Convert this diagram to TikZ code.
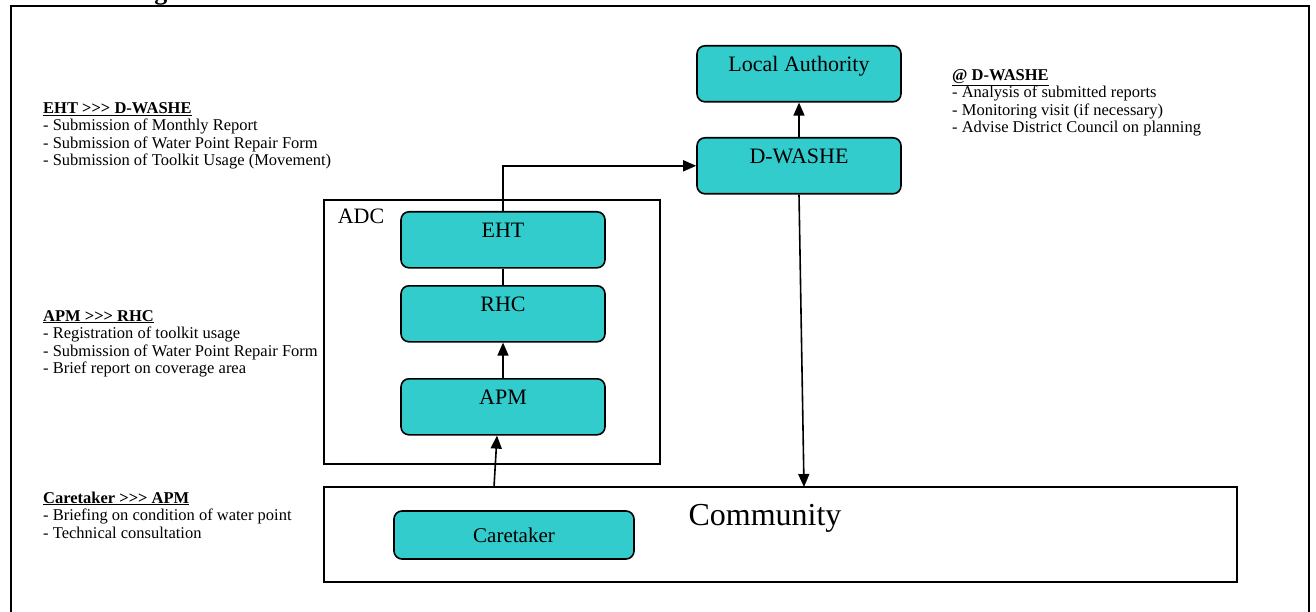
\documentclass[tikz,border=0pt]{standalone}
\usepackage{fontspec}
\setmainfont{Liberation Serif}
\usetikzlibrary{arrows.meta}
\definecolor{boxteal}{HTML}{33CCCC}
% three separate '>' signs (kerns keep them from joining into a guillemet)
\newcommand{\sendsto}{>\kern0pt>\kern0pt>}
\begin{document}
\begin{tikzpicture}[x=1pt,y=-1pt,
  unit/.style={draw=black, line width=1.6pt, fill=boxteal, rounded corners=8pt,
    minimum width=204pt, inner xsep=0pt, inner ysep=0pt,
    text height=26pt, text depth=30pt, anchor=north,
    font=\fontsize{22}{26}\selectfont},
  frame/.style={draw=black, line width=1.6pt},
  link/.style={line width=1.6pt},
  flow/.style={link, -{Triangle[length=13pt,width=11pt]}},
  notes/.style={anchor=base west, align=left, inner sep=0pt,
    font=\fontsize{16.5}{17.5}\selectfont},
]
\useasboundingbox (0,0) rectangle (1316,612);

% page heading, mostly above the sheet
\node[anchor=base west, inner sep=0pt, font=\bfseries\fontsize{26}{30}\selectfont]
  (title) at (40,-0.5) {Monitoring Structure};

% outer frame (open at the bottom)
\draw[frame] (11,620) -- (11,6) -- (1309,6) -- (1309,620);

% district level
\node[unit] (la) at (799,45) {Local Authority};
\node[unit] (dwashe) at (799,137) {D-WASHE};

% area development committee
\node[frame, minimum width=336pt, minimum height=264pt, inner sep=0pt] (adc) at (492,332) {};
\node[font=\fontsize{22}{26}\selectfont, inner sep=0pt] (adclabel) at (361,216) {ADC};
\node[unit] (eht) at (503,211) {EHT};
\node[unit] (rhc) at (503,285) {RHC};
\node[unit] (apm) at (503,378) {APM};

% community level
\node[frame, minimum width=913pt, minimum height=95pt, inner sep=0pt] (community) at (780.5,534.5) {};
\node[font=\fontsize{32}{36}\selectfont, inner sep=0pt] (commlabel) at (765,518) {Community};
\node[draw=black, line width=1.6pt, fill=boxteal, rounded corners=8pt,
  minimum width=240pt, minimum height=48pt, inner sep=0pt,
  font=\fontsize{21}{24}\selectfont] (caretaker) at (514,535) {Caretaker};

\coordinate (cin) at (804,487);
\coordinate (cout) at (494,487);

% reporting lines
\draw[flow] (dwashe.north) -- (la.south);
\draw[flow] (eht.north) |- (dwashe.west);
\draw[link] (eht.south) -- (rhc.north);
\draw[flow] (apm.north) -- (rhc.south);
\draw[flow] (cout) -- ([xshift=-6pt]apm.south);
\draw[flow] (dwashe.south) -- (cin);

% notes (anchored at the baseline of their last line)
\node[notes] (n1) at (43,166) {\underline{\textbf{EHT \sendsto{} D-WASHE}}\\
  - Submission of Monthly Report\\
  - Submission of Water Point Repair Form\\
  - Submission of Toolkit Usage (Movement)};
\node[notes] (n2) at (43,373.5) {\underline{\textbf{APM \sendsto{} RHC}}\\
  - Registration of toolkit usage\\
  - Submission of Water Point Repair Form\\
  - Brief report on coverage area};
\node[notes] (n3) at (43,538) {\underline{\textbf{Caretaker \sendsto{} APM}}\\
  - Briefing on condition of water point\\
  - Technical consultation};
\node[notes] (n4) at (952,133) {\underline{\textbf{@ D-WASHE}}\\
  - Analysis of submitted reports\\
  - Monitoring visit (if necessary)\\
  - Advise District Council on planning};
\end{tikzpicture}
\end{document}
